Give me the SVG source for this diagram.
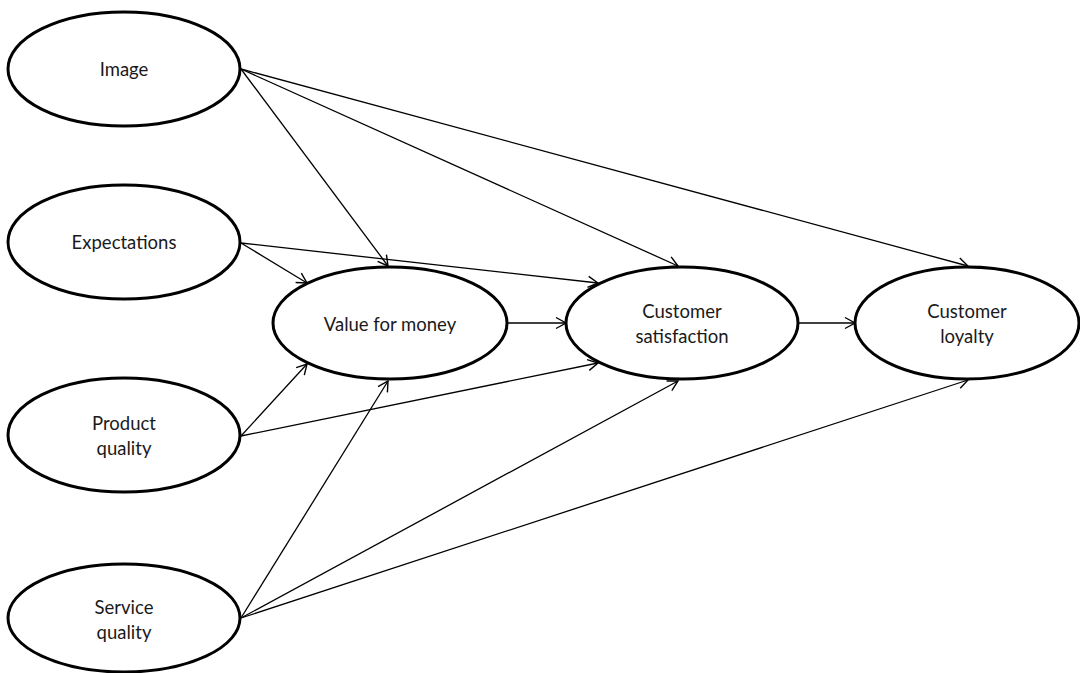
<svg xmlns="http://www.w3.org/2000/svg" width="1080" height="673" viewBox="0 0 1080 673">
  <style>
    .node ellipse { fill: #ffffff; stroke: #000000; stroke-width: 3; }
    .node text { font-family: Lato, "Open Sans", "Liberation Sans", sans-serif; font-size: 18.5px; fill: #1a1a1a; text-anchor: middle; }
    .edges line { stroke: #000000; stroke-width: 1.3; fill: none; marker-end: url(#open); }
  </style>
  <defs>
    <marker id="open" markerUnits="userSpaceOnUse" markerWidth="14" markerHeight="14" viewBox="-12 -7 14 14" refX="0" refY="0" orient="auto">
      <path d="M -10 -5.5 L 0 0 L -10 5.5" fill="none" stroke="#000000" stroke-width="1.4"/>
    </marker>
  </defs>
  <rect width="1080" height="673" fill="#ffffff"/>

  <g class="edges">
    <line x1="241" y1="69" x2="388" y2="266"/>
    <line x1="241" y1="69" x2="678" y2="266"/>
    <line x1="241" y1="69" x2="968" y2="266"/>
    <line x1="241" y1="243" x2="307" y2="283"/>
    <line x1="241" y1="243" x2="598" y2="283"/>
    <line x1="506" y1="323" x2="566" y2="323"/>
    <line x1="798" y1="323" x2="855" y2="323"/>
    <line x1="241" y1="436" x2="307" y2="364"/>
    <line x1="241" y1="436" x2="598" y2="363"/>
    <line x1="241" y1="618" x2="388" y2="381"/>
    <line x1="241" y1="618" x2="678" y2="381"/>
    <line x1="241" y1="618" x2="968" y2="380"/>
  </g>

  <g id="image" class="node">
    <ellipse cx="124" cy="69" rx="116" ry="57"/>
    <text x="124" y="76">Image</text>
  </g>
  <g id="expectations" class="node">
    <ellipse cx="124" cy="242" rx="116" ry="57"/>
    <text x="124" y="249">Expectations</text>
  </g>
  <g id="product-quality" class="node">
    <ellipse cx="124" cy="435" rx="116" ry="57"/>
    <text x="124" y="430">Product</text>
    <text x="124" y="455">quality</text>
  </g>
  <g id="service-quality" class="node">
    <ellipse cx="124" cy="618" rx="116" ry="54"/>
    <text x="124" y="614">Service</text>
    <text x="124" y="639">quality</text>
  </g>
  <g id="value-for-money" class="node">
    <ellipse cx="390" cy="323" rx="117" ry="56"/>
    <text x="390" y="331">Value for money</text>
  </g>
  <g id="customer-satisfaction" class="node">
    <ellipse cx="682" cy="323" rx="116" ry="56"/>
    <text x="682" y="318">Customer</text>
    <text x="682" y="343">satisfaction</text>
  </g>
  <g id="customer-loyalty" class="node">
    <ellipse cx="967" cy="323" rx="112" ry="56"/>
    <text x="967" y="318">Customer</text>
    <text x="967" y="343">loyalty</text>
  </g>
</svg>
